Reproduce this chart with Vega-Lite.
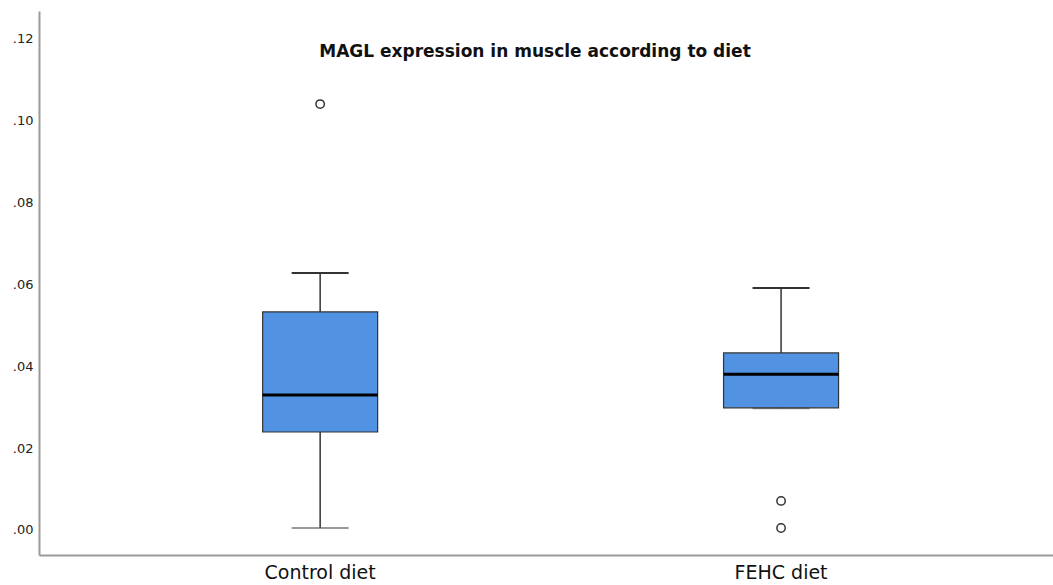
{
  "$schema": "https://vega.github.io/schema/vega-lite/v6.json",
  "autosize": {"type": "none"},
  "width": 1014,
  "height": 544,
  "padding": {"left": 39, "top": 11, "right": 0, "bottom": 30},
  "background": "white",
  "title": {
    "text": "MAGL expression in muscle according to diet",
    "orient": "top",
    "anchor": "middle",
    "offset": -67,
    "dx": -11,
    "baseline": "bottom",
    "font": "DejaVu Sans",
    "fontSize": 17,
    "fontWeight": "bold",
    "color": "#111111"
  },
  "datasets": {
    "stats": [
      {"diet": "Control diet", "lower": 0.0005, "q1": 0.0239, "median": 0.0329, "q3": 0.0532, "upper": 0.0627},
      {"diet": "FEHC diet", "lower": 0.0297, "q1": 0.0298, "median": 0.0380, "q3": 0.0432, "upper": 0.0590}
    ],
    "outliers": [
      {"diet": "Control diet", "value": 0.1039},
      {"diet": "FEHC diet", "value": 0.0071},
      {"diet": "FEHC diet", "value": 0.0005}
    ]
  },
  "encoding": {
    "x": {
      "field": "diet",
      "type": "nominal",
      "sort": ["Control diet", "FEHC diet"],
      "scale": {"paddingInner": 0, "paddingOuter": 0.1, "align": 0.55},
      "axis": {
        "title": null,
        "labelAngle": 0,
        "ticks": false,
        "labelFont": "DejaVu Sans",
        "labelFontSize": 19,
        "labelColor": "#111111",
        "labelPadding": 8,
        "domainColor": "#9a9a9a",
        "domainWidth": 2
      }
    }
  },
  "layer": [
    {
      "data": {"name": "stats"},
      "mark": {"type": "rule", "color": "#333333", "strokeWidth": 1.5},
      "encoding": {
        "y": {
          "field": "lower",
          "type": "quantitative",
          "scale": {"domain": [-0.0061, 0.1266], "nice": false, "zero": false},
          "axis": {
            "title": null,
            "values": [0, 0.02, 0.04, 0.06, 0.08, 0.1, 0.12],
            "labelExpr": "replace(format(datum.value, '.2f'), '0.', '.')",
            "ticks": false,
            "grid": false,
            "labelFont": "DejaVu Sans",
            "labelFontSize": 13,
            "labelColor": "#222222",
            "labelPadding": 6,
            "domainColor": "#9a9a9a",
            "domainWidth": 2
          }
        },
        "y2": {"field": "upper"}
      }
    },
    {
      "data": {"name": "stats"},
      "mark": {"type": "tick", "orient": "horizontal", "size": 57, "thickness": 2, "color": "#333333", "opacity": 1},
      "encoding": {"y": {"field": "upper", "type": "quantitative"}}
    },
    {
      "data": {"name": "stats"},
      "mark": {"type": "tick", "orient": "horizontal", "size": 57, "thickness": 2, "color": "#555555", "opacity": 0.6},
      "encoding": {"y": {"field": "lower", "type": "quantitative"}}
    },
    {
      "data": {"name": "stats"},
      "mark": {"type": "bar", "size": 115, "fill": "#5192e3", "stroke": "#333333", "strokeWidth": 1.2},
      "encoding": {
        "y": {"field": "q1", "type": "quantitative"},
        "y2": {"field": "q3"}
      }
    },
    {
      "data": {"name": "stats"},
      "mark": {"type": "tick", "orient": "horizontal", "size": 115, "thickness": 3, "color": "#000000", "opacity": 1},
      "encoding": {"y": {"field": "median", "type": "quantitative"}}
    },
    {
      "data": {"name": "outliers"},
      "mark": {"type": "point", "shape": "circle", "size": 70, "filled": false, "stroke": "#333333", "strokeWidth": 1.5, "fill": "white", "fillOpacity": 1, "opacity": 1},
      "encoding": {"y": {"field": "value", "type": "quantitative"}}
    }
  ],
  "config": {
    "view": {"stroke": null}
  }
}
